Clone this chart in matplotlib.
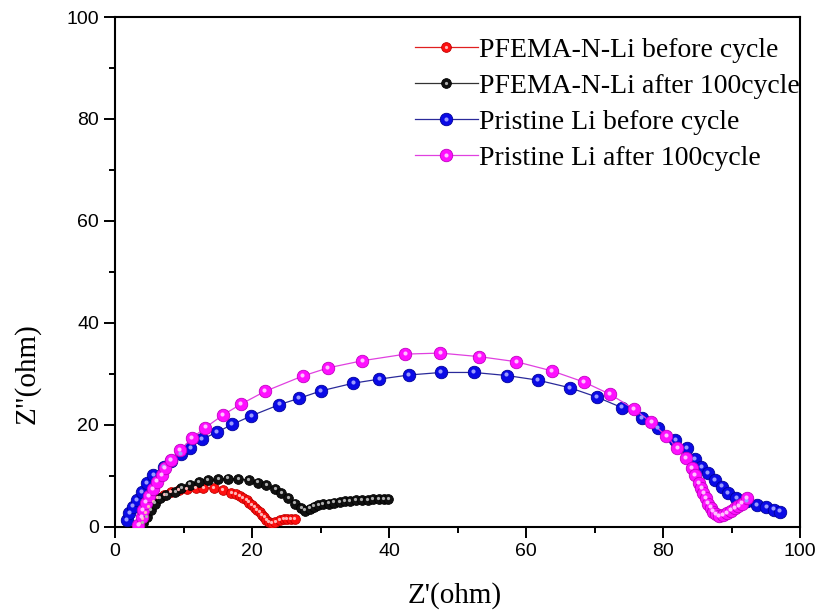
import matplotlib
matplotlib.use("Agg")
import matplotlib.pyplot as plt
import matplotlib.transforms as mtransforms
from matplotlib.legend_handler import HandlerTuple
from matplotlib.ticker import MultipleLocator

# impedance data (Z', Z'') for each electrode
red_x = [3.6, 4.0, 4.5, 5.0, 5.6, 6.3, 7.2, 8.2, 9.3, 10.5, 11.8, 12.9, 14.4, 15.8,
         17.0, 17.6, 18.2, 18.7, 19.2, 19.6, 20.0, 20.4, 20.7, 21.1, 21.4, 21.8, 22.1,
         22.5, 22.9, 23.4, 24.1, 24.6, 25.1, 25.7, 26.3]
red_y = [0.5, 1.6, 2.8, 3.8, 4.8, 5.6, 6.3, 6.8, 7.2, 7.5, 7.7, 7.7, 7.6, 7.3,
         6.7, 6.4, 6.1, 5.7, 5.3, 4.8, 4.3, 3.8, 3.3, 2.9, 2.4, 1.9, 1.4,
         1.0, 0.7, 1.0, 1.4, 1.5, 1.5, 1.5, 1.5]

black_x = [4.1, 4.6, 5.2, 5.8, 6.6, 7.5, 8.8, 9.7, 10.9, 12.2, 13.6, 15.1, 16.5, 18.0,
           19.5, 20.9, 22.1, 23.4, 24.3, 25.3, 26.3, 27.2, 27.7, 28.4, 29.0, 29.7,
           30.4, 31.2, 32.0, 32.8, 33.6, 34.3, 35.2, 36.0, 36.9, 37.7, 38.5, 39.3, 39.9]
black_y = [0.7, 2.0, 3.3, 4.6, 5.6, 6.3, 6.9, 7.6, 8.3, 8.8, 9.2, 9.4, 9.5, 9.4,
           9.2, 8.7, 8.2, 7.4, 6.6, 5.6, 4.6, 3.7, 3.2, 3.6, 4.0, 4.3,
           4.5, 4.6, 4.8, 4.9, 5.0, 5.1, 5.2, 5.3, 5.3, 5.4, 5.4, 5.5, 5.4]

blue_x = [1.7, 2.1, 2.6, 3.2, 3.9, 4.6, 5.6, 7.1, 8.2, 9.6, 11.0, 12.7, 14.9, 17.1,
          19.9, 24.0, 26.8, 30.1, 34.8, 38.6, 42.9, 47.6, 52.4, 57.2, 61.7, 66.4,
          70.3, 74.0, 76.9, 79.3, 81.8, 83.5, 84.7, 85.6, 86.6, 87.6, 88.6, 89.5,
          90.7, 92.2, 93.7, 95.1, 96.2, 97.1]
blue_y = [1.4, 2.7, 4.0, 5.3, 6.9, 8.6, 10.2, 11.8, 13.0, 14.3, 15.5, 17.2, 18.6, 20.1,
          21.8, 24.0, 25.2, 26.7, 28.2, 29.0, 29.8, 30.3, 30.3, 29.7, 28.8, 27.3,
          25.5, 23.4, 21.3, 19.4, 17.1, 15.4, 13.3, 11.8, 10.5, 9.2, 7.9, 6.6,
          5.6, 5.0, 4.3, 3.9, 3.4, 3.0]

pink_x = [3.4, 3.9, 4.1, 4.5, 5.0, 5.5, 6.1, 6.8, 7.3, 8.2, 9.5, 11.2, 13.2, 15.8,
          18.4, 21.9, 27.4, 31.1, 36.1, 42.4, 47.5, 53.2, 58.6, 63.8, 68.5, 72.3,
          75.8, 78.3, 80.5, 82.1, 83.3, 84.2, 84.7, 85.2, 85.6, 85.9, 86.3, 86.6,
          87.0, 87.3, 87.7, 88.1, 88.7, 89.3, 89.9, 90.5, 91.0, 91.5, 92.2]
pink_y = [0.4, 2.0, 3.3, 4.8, 6.1, 7.4, 8.9, 10.2, 11.5, 13.1, 15.0, 17.4, 19.5, 22.0,
          24.1, 26.6, 29.6, 31.2, 32.6, 33.9, 34.1, 33.4, 32.4, 30.6, 28.4, 26.0,
          23.1, 20.5, 17.8, 15.4, 13.5, 11.5, 10.2, 8.6, 7.6, 6.6, 5.6, 4.6,
          3.8, 3.0, 2.5, 2.1, 2.3, 2.7, 3.2, 3.7, 4.1, 4.6, 5.6]

labels = ["PFEMA-N-Li before cycle", "PFEMA-N-Li after 100cycle",
          "Pristine Li before cycle", "Pristine Li after 100cycle"]

fig = plt.figure(figsize=(8.24, 6.16), dpi=100)
ax = fig.add_axes([0.1396, 0.1445, 0.8313, 0.8279])

# offset used for the shiny spot on the ball markers
shine = mtransforms.offset_copy(ax.transData, fig=fig, x=-0.8, y=1.2, units="dots")


def ball_series(x, y, body, edge, light, line, size):
    ln, = ax.plot(x, y, "-", color=line, lw=0.9, marker="o", ms=size,
                  mfc=body, mec=edge, mew=0.6, zorder=3)
    hl, = ax.plot(x, y, ls="none", marker="o", ms=size * 0.33, mfc=light,
                  mec="none", transform=shine, zorder=4)
    return (ln, hl)


handles = [
    ball_series(red_x, red_y, "#ff1010", "#c00000", "#ffb8b8", "#e02020", 7.0),
    ball_series(black_x, black_y, "#111111", "#000000", "#b0b0b0", "#333333", 7.0),
    ball_series(blue_x, blue_y, "#0a0ae6", "#00009a", "#9a9aff", "#2a2a9a", 9.0),
    ball_series(pink_x, pink_y, "#ff10ff", "#c000c0", "#ffc0ff", "#e040e0", 9.0),
]

ax.set_xlim(0, 100)
ax.set_ylim(0, 100)
ax.xaxis.set_major_locator(MultipleLocator(20))
ax.xaxis.set_minor_locator(MultipleLocator(10))
ax.yaxis.set_major_locator(MultipleLocator(20))
ax.yaxis.set_minor_locator(MultipleLocator(10))
ax.tick_params(which="major", direction="out", length=8, width=1.4,
               labelsize=14, top=False, right=False)
ax.tick_params(which="minor", direction="out", length=4.5, width=1.4,
               top=False, right=False)
for lab in ax.get_xticklabels() + ax.get_yticklabels():
    lab.set_family("Liberation Sans")
for sp in ax.spines.values():
    sp.set_linewidth(1.5)

ax.set_xlabel("Z'(ohm)", family="Liberation Serif", fontsize=21)
ax.set_ylabel('Z"(ohm)', family="Liberation Serif", fontsize=21)
ax.xaxis.set_label_coords(0.496, -0.108)
ax.yaxis.set_label_coords(-0.108, 0.30)

ax.legend(handles, labels, handler_map={tuple: HandlerTuple(ndivide=1, pad=0)},
          loc="upper left", bbox_to_anchor=(0.438, 0.96), frameon=False,
          prop={"family": "Liberation Serif", "size": 20}, handlelength=2.25,
          handletextpad=0.05, labelspacing=0.38, borderpad=0, borderaxespad=0,
          numpoints=1)

fig.savefig("out.png", dpi=100)
